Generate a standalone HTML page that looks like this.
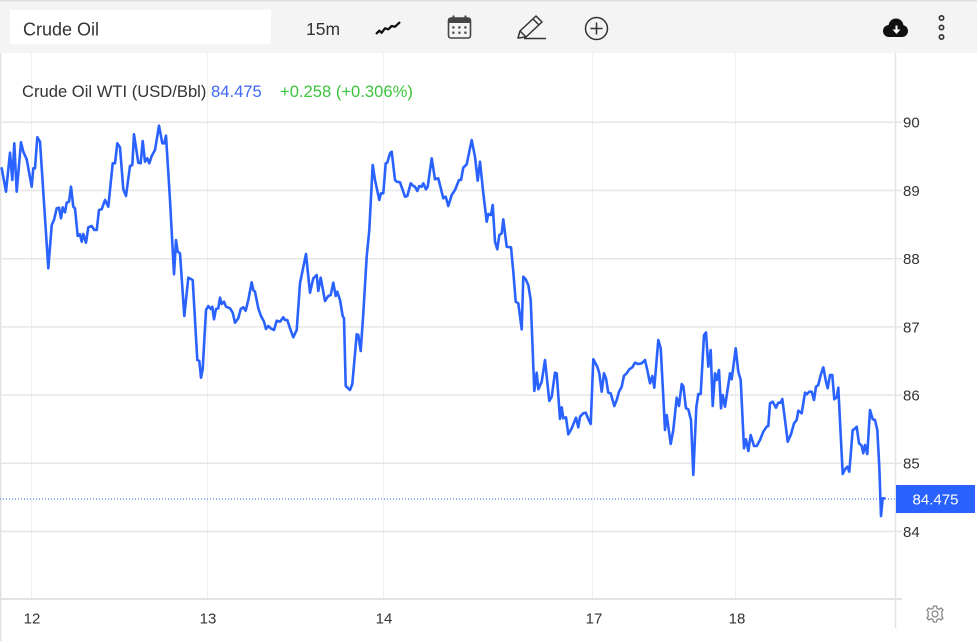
<!DOCTYPE html>
<html>
<head>
<meta charset="utf-8">
<style>
  html,body{margin:0;padding:0;background:#fff;}
  body{width:977px;height:641px;overflow:hidden;}
  svg{display:block;font-family:"Liberation Sans",Arial,sans-serif;}
</style>
</head>
<body>
<svg width="977" height="641" viewBox="0 0 977 641" xmlns="http://www.w3.org/2000/svg">
  <!-- toolbar -->
  <rect x="0" y="0" width="977" height="53" fill="#f4f4f4"/>
  <rect x="0" y="0" width="977" height="1.5" fill="#dedede"/>
  <rect x="10" y="10" width="261" height="34" fill="#ffffff"/>
  <text x="23" y="35.5" font-size="18" fill="#333">Crude Oil</text>
  <text x="306" y="35" font-size="17.5" fill="#333">15m</text>
  <!-- line icon -->
  <polyline points="376.7,33.3 379.3,30.7 381.7,32.7 385,28.3 388.3,29.3 391.7,26 395,26.7 399.3,22.7" fill="none" stroke="#111" stroke-width="2.3" stroke-linejoin="round" stroke-linecap="round"/>
  <!-- calendar icon -->
  <rect x="448.5" y="18" width="22" height="20" rx="2.5" fill="none" stroke="#444" stroke-width="1.6"/>
  <rect x="448.5" y="18" width="22" height="5" fill="#444"/>
  <rect x="452.5" y="15.5" width="2" height="4" fill="#444"/>
  <rect x="464.5" y="15.5" width="2" height="4" fill="#444"/>
  <g fill="#444">
    <rect x="452.3" y="26.3" width="2.2" height="2.2"/>
    <rect x="458.3" y="26.3" width="2.2" height="2.2"/>
    <rect x="464.3" y="26.3" width="2.2" height="2.2"/>
    <rect x="452.3" y="31.6" width="2.2" height="2.2"/>
    <rect x="458.3" y="31.6" width="2.2" height="2.2"/>
    <rect x="464.3" y="31.6" width="2.2" height="2.2"/>
  </g>
  <!-- pencil icon -->
  <g fill="none" stroke="#333" stroke-width="1.5" stroke-linejoin="round">
    <polygon points="518,38 520,31 536,16 542,22 526,37"/>
    <line x1="533" y1="19" x2="539" y2="25"/>
    <line x1="520" y1="31" x2="526" y2="37"/>
    <line x1="524" y1="38.5" x2="546" y2="38.5"/>
  </g>
  <!-- plus circle -->
  <circle cx="596.5" cy="28.5" r="11" fill="none" stroke="#333" stroke-width="1.5"/>
  <line x1="590.5" y1="28.5" x2="602.5" y2="28.5" stroke="#333" stroke-width="1.5"/>
  <line x1="596.5" y1="22.5" x2="596.5" y2="34.5" stroke="#333" stroke-width="1.5"/>
  <!-- cloud download -->
  <g fill="#111">
    <circle cx="889" cy="31" r="6"/>
    <circle cx="896" cy="26" r="7.5"/>
    <circle cx="902" cy="31" r="6"/>
    <rect x="889" y="29" width="13" height="8"/>
  </g>
  <polygon points="892.5,29.5 895.5,29.5 895.5,25.5 897.5,25.5 897.5,29.5 900.5,29.5 896.5,34" fill="#fff"/>
  <!-- three dots -->
  <g fill="none" stroke="#333" stroke-width="1.6">
    <circle cx="941.5" cy="18" r="2.2"/>
    <circle cx="941.5" cy="27.5" r="2.2"/>
    <circle cx="941.5" cy="37" r="2.2"/>
  </g>

  <!-- left border -->
  <rect x="0" y="53" width="1.5" height="588" fill="#e3e3e3"/>

  <!-- vertical grid -->
  <g stroke="#edf1f5" stroke-width="1">
    <line x1="31.5" y1="53" x2="31.5" y2="599"/>
    <line x1="207.5" y1="53" x2="207.5" y2="599"/>
    <line x1="383.5" y1="53" x2="383.5" y2="599"/>
    <line x1="592.5" y1="53" x2="592.5" y2="599"/>
    <line x1="735.5" y1="53" x2="735.5" y2="599"/>
  </g>
  <!-- horizontal grid -->
  <g stroke="#e6e6e6" stroke-width="1.5">
    <line x1="0" y1="122.3" x2="902" y2="122.3"/>
    <line x1="0" y1="190.5" x2="902" y2="190.5"/>
    <line x1="0" y1="258.7" x2="902" y2="258.7"/>
    <line x1="0" y1="326.9" x2="902" y2="326.9"/>
    <line x1="0" y1="395.1" x2="902" y2="395.1"/>
    <line x1="0" y1="463.3" x2="902" y2="463.3"/>
    <line x1="0" y1="531.5" x2="902" y2="531.5"/>
  </g>
  <line x1="0" y1="599" x2="902" y2="599" stroke="#e3e3e3" stroke-width="2"/>
  <!-- right axis line -->
  <line x1="895.5" y1="53" x2="895.5" y2="628" stroke="#e3e3e3" stroke-width="1.5"/>

  <!-- legend -->
  <text x="22" y="97" font-size="16.6" fill="#333">Crude Oil WTI (USD/Bbl) <tspan fill="#3f67f5">84.475</tspan><tspan x="280" fill="#3cc43c">+0.258 (+0.306%)</tspan></text>

  <!-- y labels -->
  <g font-size="15" fill="#333">
    <text x="903" y="127.7">90</text>
    <text x="903" y="195.9">89</text>
    <text x="903" y="264.1">88</text>
    <text x="903" y="332.3">87</text>
    <text x="903" y="400.5">86</text>
    <text x="903" y="468.7">85</text>
    <text x="903" y="536.9">84</text>
  </g>
  <!-- x labels -->
  <g font-size="15" fill="#333" text-anchor="middle">
    <text x="32" y="623.5">12</text>
    <text x="208" y="623.5">13</text>
    <text x="384" y="623.5">14</text>
    <text x="594" y="623.5">17</text>
    <text x="737" y="623.5">18</text>
  </g>

  <!-- current price dotted line -->
  <line x1="0" y1="499" x2="895" y2="499" stroke="#2962ff" stroke-width="1" stroke-dasharray="1 2"/>

  <!-- series -->
  <polyline fill="none" stroke="#2962ff" stroke-width="2.6" stroke-linejoin="round" stroke-linecap="round" points="
1.7,168.3 6,191.7 10,152.7 12.3,180 14.3,143.3 16.7,191.7 21,142.3 23.3,151.7 26.7,159.3 31.7,186.7 33.3,168.3 35,168.3 37.3,137.3 40,141.7 48.3,268.3 51.7,225 54,220 56.7,208.3 59,207.7 61,218.3 62.7,207.3 65,212.3 66.7,202.7 69,201.7 71,186.7 73.3,206.7 75,208.3 77.7,236 80,234.3 81.7,241.7 83.3,234 86,242.7 88.3,227.3 91.7,226 94.3,230 96.7,230 99,210 101.7,209.3 105,200 108.3,206.7 112.7,163.3 115,163.3 117.3,143.3 120,147.3 123.3,189.3 126,196 130,166 132.3,165 134,134.3 138.3,162.7 140.7,163.3 142.7,141 145,161.7 147.3,158.3 149.3,163.3 151.7,156 155,150 159,125.7 162.3,143.3 164.3,143.3 166,135.7 170,200 174,274.3 176,240 177.7,251.7 180,253.3 184.3,316 188.3,277.7 192.7,280 197.3,360 199.3,360.7 201,377.7 202.7,369.3 206,310 208.3,306 210.7,309 212.3,306.7 214,319.3 216,309 218.3,308.3 220,297.7 221.7,304 224,301.7 226,306.7 230,308.3 232.7,312.7 235,322.7 238.3,318.3 240.7,309 243.3,307.3 245.7,310.7 248.3,300 251.7,282.3 253.3,290 255,291.7 258.3,308.3 261,316 264,321.7 266,329 268.3,326 270.7,328.3 274,330 276.7,320.7 280,321.7 283.3,317.3 285,320 287.3,320 290,328.3 293.3,337.3 296.7,330 300,283.3 306,254 310,292.7 313.3,278.3 316.7,275 318.3,291 320.7,277.7 325,301 328.3,296 330.7,295 333.3,282.7 335.7,296 337.3,291.7 340,300 342.7,316 344,318.3 345.7,386 350,390 352.3,384 356.7,334.3 358.3,335 360.7,351 363.3,313.3 366.7,256.7 369.3,230 372.7,165 375,180 379.3,200 381,193.3 383.3,193.3 385.7,163.3 387.3,162.7 390,153.3 391.7,151.7 395,180 396.7,181.7 400,182.3 405,196.7 407.3,196 410.7,183.3 413.3,186 415,186.7 417.3,191 419.3,186 421.7,186.7 423.3,183.3 426,189.3 427.7,186.7 431.7,158.3 435,179.3 438.3,178.3 443.3,198.3 445.7,196.7 448.3,206 451.7,195 455,190 459,180 461,180 463.3,167.7 466.7,164.3 471.7,140 475,156.7 477.7,180.7 480,161.7 483.3,193.3 486.7,221.7 488.3,214 491,215 492.7,205 495,241.7 497.3,249.3 499.3,235 501.7,233.3 503.3,219.3 506.7,246.7 511,247.3 513.3,271.7 515.7,301.7 518.3,303.3 521.7,329.3 523.3,276.7 525.7,279.3 528.3,285 530.7,300 534.3,391 536.7,372.7 538.3,389.3 541.7,381.7 545,360 549.3,401 551.7,396.7 555,372.7 556.7,373.3 560,419 561.7,407.3 563.3,418.3 566,417.3 568.3,434.3 571.7,428.3 576,417.7 578.3,427.3 580,416.7 583.3,413.3 585.7,412.7 588.3,419 590.7,424 593.3,359.3 597.3,366.7 599.3,373.3 601.7,391.7 604,373.3 606,378.3 608.3,392.7 610.7,393.3 614.3,406 616.7,400 619,391.7 621.7,386.7 624,375.7 626.7,373.3 629.3,369.3 632.3,367.3 635,362.7 638.3,364 641.7,363.3 645,360 647.3,370 650,383.3 652.3,376 654.3,387.7 658.3,340 660.7,348.3 663.3,396.7 665,430 666.7,415 670.7,444 673.3,430 676.7,397.7 679,406 681.7,384 683.3,386 686,408.3 688.3,409.3 691,420 693.3,475 696.3,407.5 698.3,394 700.7,394 704,335 706,332.5 708.3,366.7 710.7,350 712.7,406 715,373.3 716.7,380 719,370 721,408.3 722.7,395 725,406.7 727.3,391.7 730,373.3 731.7,379.3 735.7,348.3 738.3,371.7 740.7,380 744,448.3 746,439.3 748.3,451 750.7,435 754,446 756.7,446 760,440 763.3,431.7 766.7,426.7 768.3,426 770,403.3 772.7,401.7 776,407.7 778.3,402.7 780.7,402.7 782.3,399 785,420 787.7,441.7 791,434.3 794,423.3 796.7,420 798.3,410.7 801.7,413.3 805,392.7 806.7,394.3 809.3,391.7 811.7,391.7 814,400 816,386.7 818.3,385 820.7,375 823.3,367.3 826,381.7 827.7,388.3 830,375 832.3,375 834.3,399.3 836.7,397.3 838.3,387.7 842.7,474 845,469.3 847.3,466.7 849.3,471.7 852.7,430 854.3,429.3 856.7,426.7 859,443.3 861.7,445.7 863.3,453.3 865,445 867.3,454 870,410 872.7,419.3 875,420 877.3,430 879.3,466.7 881,516 882.7,498.3 884.3,498.3"/>

  <!-- price label -->
  <rect x="896" y="485" width="79" height="28" fill="#2962ff"/>
  <text x="935.5" y="504.5" font-size="15" fill="#ffffff" text-anchor="middle">84.475</text>

  <!-- gear -->
  <g transform="translate(935,614)" fill="none" stroke="#8a8a8a" stroke-width="1.3">
    <circle r="3"/>
    <path d="M-1.5,-8 L1.5,-8 L2,-5.6 L4,-4.6 L6,-6 L8,-4 L6.6,-2 L7.2,0 L6.6,2 L8,4 L6,6 L4,4.6 L2,5.6 L1.5,8 L-1.5,8 L-2,5.6 L-4,4.6 L-6,6 L-8,4 L-6.6,2 L-7.2,0 L-6.6,-2 L-8,-4 L-6,-6 L-4,-4.6 L-2,-5.6 Z"/>
  </g>
</svg>
</body>
</html>
